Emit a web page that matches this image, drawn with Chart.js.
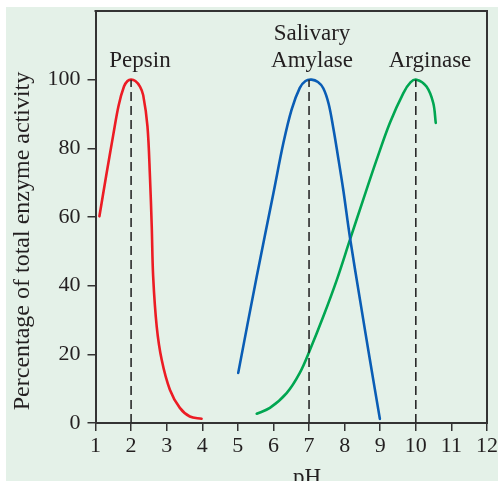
<!DOCTYPE html>
<html>
<head>
<meta charset="utf-8">
<script src="https://cdn.jsdelivr.net/npm/chart.js@4/dist/chart.umd.min.js"></script>
<style>
html,body{margin:0;padding:0;background:#e4f1e8;overflow:hidden;}
.wl{position:absolute;left:0;top:0;width:6px;height:100%;background:#ffffff;}
.wt{position:absolute;left:0;top:0;width:100%;height:7px;background:#ffffff;}
#c{position:absolute;left:0;top:0;}
</style>
</head>
<body>
<div class="wl"></div><div class="wt"></div>
<canvas id="c" width="498" height="481"></canvas>
<script>
// ---- data ----
const xTicks = [1,2,3,4,5,6,7,8,9,10,11,12];
const yTicks = [0,20,40,60,80,100];

const pepsinX = [1.11,1.3,1.5,1.65,1.8,1.9,2.0,2.12,2.25,2.34,2.46,2.53,2.58,2.62,2.72,2.86,3.09,3.37,3.65,3.98];
const pepsinY = [60.2,72,84,92.5,98,99.6,100,99.6,98,95.5,86.4,71.8,57.3,42.7,28.1,18.4,9.7,4.4,1.9,1.25];

const amylaseX = [5.01,5.53,6.0,6.28,6.51,6.74,6.9,7.07,7.25,7.4,7.55,7.68,7.8,7.96,8.15,8.43,8.71,8.99];
const amylaseY = [14.6,42.7,67,81.6,91.3,97.6,99.6,100,99.3,97.5,93,86,78.5,68,54,36,18.4,1.2];

const arginaseX = [5.53,5.9,6.37,6.74,7.03,7.4,7.78,8.15,8.52,8.9,9.27,9.65,9.85,10.02,10.3,10.49,10.56];
const arginaseY = [2.7,4.4,8.7,14.6,21.4,31,41.7,53.4,65,76.7,87.4,96.1,99.2,100,98,93.2,87.4];

const optimumPH = [2,7,10];
const optimumLevel = 100;

const enzymeNames = ['Pepsin','Salivary\nAmylase','Arginase'];
const xTitle = 'pH';
const yTitle = 'Percentage of total enzyme activity';

// ---- build ----
const FONT = "'Liberation Serif','Times New Roman',serif";
const zip = (xs, ys) => xs.map((x, i) => ({x, y: ys[i]}));

const curveStyle = (color) => ({
  showLine: true, borderColor: color, borderWidth: 2.6, pointRadius: 0,
  fill: false, tension: 0.35, borderCapStyle: 'round', borderJoinStyle: 'round'
});

const datasets = [
  Object.assign({label: 'Pepsin', data: zip(pepsinX, pepsinY)}, curveStyle('#ec1c24')),
  Object.assign({label: 'Salivary Amylase', data: zip(amylaseX, amylaseY)}, curveStyle('#0a5db5')),
  Object.assign({label: 'Arginase', data: zip(arginaseX, arginaseY)}, curveStyle('#00a651')),
];
optimumPH.forEach((p) => {
  datasets.unshift({
    label: 'opt' + p, data: [{x: p, y: 0}, {x: p, y: optimumLevel}],
    showLine: true, borderColor: '#2a2a2a', borderWidth: 1.6, borderDash: [9, 5],
    pointRadius: 0, fill: false
  });
});

const framePlugin = {
  id: 'frame',
  afterDraw(chart) {
    const ctx = chart.ctx;
    const a = chart.chartArea;
    ctx.save();
    ctx.strokeStyle = '#333333';
    ctx.lineWidth = 2;
    ctx.beginPath();
    ctx.moveTo(a.left - 1, a.top);
    ctx.lineTo(a.right, a.top);
    ctx.lineTo(a.right, a.bottom + 1);
    ctx.stroke();
    ctx.fillStyle = '#231f20';
    ctx.textAlign = 'center';
    ctx.textBaseline = 'alphabetic';
    ctx.font = '23px ' + FONT;
    ctx.fillText(xTitle, 307, 484);
    ctx.save();
    ctx.font = '24px ' + FONT;
    ctx.translate(29, 241);
    ctx.rotate(-Math.PI / 2);
    ctx.fillText(yTitle, 0, 0);
    ctx.restore();
    const labelPos = [[140, 67], [312, 67], [430, 67]];
    enzymeNames.forEach((name, i) => {
      const lines = name.split('\n');
      lines.forEach((ln, j) => {
        ctx.fillText(ln, labelPos[i][0], labelPos[i][1] - (lines.length - 1 - j) * 27);
      });
    });
    ctx.restore();
  }
};

new Chart(document.getElementById('c'), {
  type: 'scatter',
  data: {datasets},
  plugins: [framePlugin],
  options: {
    responsive: false,
    animation: false,
    devicePixelRatio: 1,
    layout: {padding: {top: 11, right: 11, left: 0, bottom: 0}},
    plugins: {legend: {display: false}, tooltip: {enabled: false}},
    scales: {
      x: {
        type: 'linear', min: 1, max: 12,
        afterFit(s) { s.height = 58; s.paddingLeft = 0; s.paddingRight = 0; },
        afterBuildTicks(s) { s.ticks = xTicks.map(v => ({value: v})); },
        ticks: {color: '#231f20', font: {family: FONT, size: 22}, padding: 2, maxRotation: 0, autoSkip: false},
        grid: {drawOnChartArea: false, drawTicks: true, tickLength: 8, color: '#333333', lineWidth: 1.5},
        border: {display: true, color: '#333333', width: 2}
      },
      y: {
        type: 'linear', min: 0, max: 120,
        afterFit(s) { s.width = 95.5; s.paddingTop = 0; s.paddingBottom = 0; },
        afterBuildTicks(s) { s.ticks = yTicks.map(v => ({value: v})); },
        ticks: {color: '#231f20', font: {family: FONT, size: 22}, padding: 7},
        grid: {drawOnChartArea: false, drawTicks: true, tickLength: 8, color: '#333333', lineWidth: 1.5},
        border: {display: true, color: '#333333', width: 2}
      }
    }
  }
});
</script>
</body>
</html>
